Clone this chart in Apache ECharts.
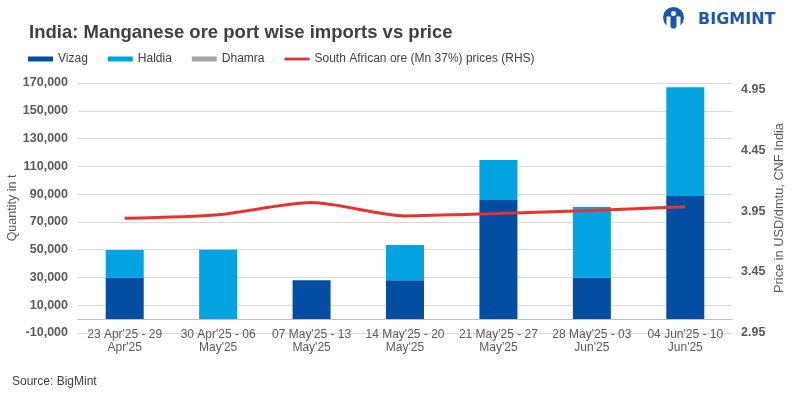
<!DOCTYPE html>
<html>
<head>
<meta charset="utf-8">
<script src="https://cdn.jsdelivr.net/npm/echarts@6/dist/echarts.min.js"></script>
<style>html,body{margin:0;padding:0;background:#fff;}#c{width:800px;height:398px;}</style>
</head>
<body>
<div id="c"></div>
<script>
const categories = ["23 Apr'25 - 29\nApr'25", "30 Apr'25 - 06\nMay'25", "07 May'25 - 13\nMay'25", "14 May'25 - 20\nMay'25", "21 May'25 - 27\nMay'25", "28 May'25 - 03\nJun'25", "04 Jun'25 - 10\nJun'25"];
const vizag = [29800, 0, 28000, 28000, 85800, 29800, 88600];
const haldia = [20000, 50000, 0, 25300, 28700, 50900, 78300];
const dhamra = [0, 0, 0, 0, 0, 0, 0];
const price = [3.89, 3.92, 4.02, 3.91, 3.93, 3.955, 3.985];
const leftTicks = { min: -10000, max: 170000, step: 20000 };
const rightTicks = { min: 2.95, max: 5.0, step: 0.5 };

const SANS = "'Liberation Sans', Arial, sans-serif";
const chart = echarts.init(document.getElementById('c'));
chart.setOption({
  animation: false,
  textStyle: { fontFamily: SANS },
  legend: {
    left: 28, top: 53, padding: 0,
    itemWidth: 25, itemHeight: 5, itemGap: 20,
    textStyle: { fontFamily: SANS, fontSize: 12, color: '#404040' },
    data: [
      { name: 'Vizag', icon: 'rect' },
      { name: 'Haldia', icon: 'rect' },
      { name: 'Dhamra', icon: 'rect' },
      { name: 'South African ore (Mn 37%) prices (RHS)', icon: 'path://M0,0H28V3.2H0Z' }
    ]
  },
  grid: { left: 78, right: 68, top: 83, bottom: 65, containLabel: false, outerBoundsMode: 'none' },
  xAxis: {
    type: 'category',
    data: categories,
    axisTick: { show: false },
    axisLine: { onZero: true, lineStyle: { color: '#bfbfbf', width: 1 } },
    axisLabel: { fontFamily: SANS, fontSize: 12, color: '#595959', margin: -5, lineHeight: 13, interval: 0 }
  },
  yAxis: [
    {
      type: 'value', min: leftTicks.min, max: leftTicks.max, interval: leftTicks.step,
      name: 'Quantity in t', nameLocation: 'middle', nameGap: 59, nameRotate: 90, nameMoveOverlap: false,
      nameTextStyle: { fontFamily: SANS, fontSize: 12.5, color: '#595959' },
      axisLine: { show: false }, axisTick: { show: false },
      axisLabel: { fontFamily: SANS, fontSize: 12.5, fontWeight: 'bold', color: '#595959', margin: 10,
        formatter: v => v.toLocaleString('en-US') },
      splitLine: { lineStyle: { color: '#d9d9d9', width: 1 } }
    },
    {
      type: 'value', min: rightTicks.min, max: rightTicks.max, interval: rightTicks.step,
      name: 'Price in USD/dmtu, CNF India', nameLocation: 'middle', nameGap: 41, nameRotate: 90, nameMoveOverlap: false,
      nameTextStyle: { fontFamily: SANS, fontSize: 12.8, color: '#595959' },
      axisLine: { show: false }, axisTick: { show: false },
      axisLabel: { fontFamily: SANS, fontSize: 12.5, fontWeight: 'bold', color: '#595959', margin: 9,
        showMaxLabel: false, formatter: v => v.toFixed(2) },
      splitLine: { show: false }
    }
  ],
  series: [
    { name: 'Vizag', type: 'bar', stack: 'q', data: vizag, barWidth: 38, itemStyle: { color: '#034EA2' } },
    { name: 'Haldia', type: 'bar', stack: 'q', data: haldia, barWidth: 38, itemStyle: { color: '#03A2E0' } },
    { name: 'Dhamra', type: 'bar', stack: 'q', data: dhamra, barWidth: 38, itemStyle: { color: '#A5A5A5' } },
    { name: 'South African ore (Mn 37%) prices (RHS)', type: 'line', yAxisIndex: 1, data: price,
      smooth: 0.25, showSymbol: false, symbol: 'none',
      lineStyle: { color: '#E8322F', width: 3 }, itemStyle: { color: '#E8322F' } }
  ],
  graphic: [
    { type: 'text', x: 29, y: 33,
      style: { text: 'India: Manganese ore port wise imports vs price', font: "bold 18.5px " + SANS,
        fill: '#404040', verticalAlign: 'middle' } },
    { type: 'text', left: 12, top: 376,
      style: { text: 'Source: BigMint', font: "12px " + SANS, fill: '#404040' } },
    { type: 'group', left: 663, top: 7, children: [
      { type: 'circle', shape: { cx: 12, cy: 10, r: 10.5 }, style: { fill: '#1a56b0' } },
      { type: 'rect', shape: { x: 5, y: 9, width: 4, height: 12 }, style: { fill: '#fff' } },
      { type: 'rect', shape: { x: 15, y: 9, width: 4, height: 12 }, style: { fill: '#fff' } },
      { type: 'circle', shape: { cx: 12, cy: 6, r: 2.5 }, style: { fill: '#fff' } },
      { type: 'rect', shape: { x: 10, y: 10, width: 4, height: 11 }, style: { fill: '#1a56b0' } }
    ]},
    { type: 'text', x: 698, y: 20,
      style: { text: 'BIGMINT', font: "bold 16px 'DejaVu Sans', sans-serif", fill: '#1a56b0', letterSpacing: 3.5,
        verticalAlign: 'middle' } }
  ]
});
</script>
</body>
</html>
